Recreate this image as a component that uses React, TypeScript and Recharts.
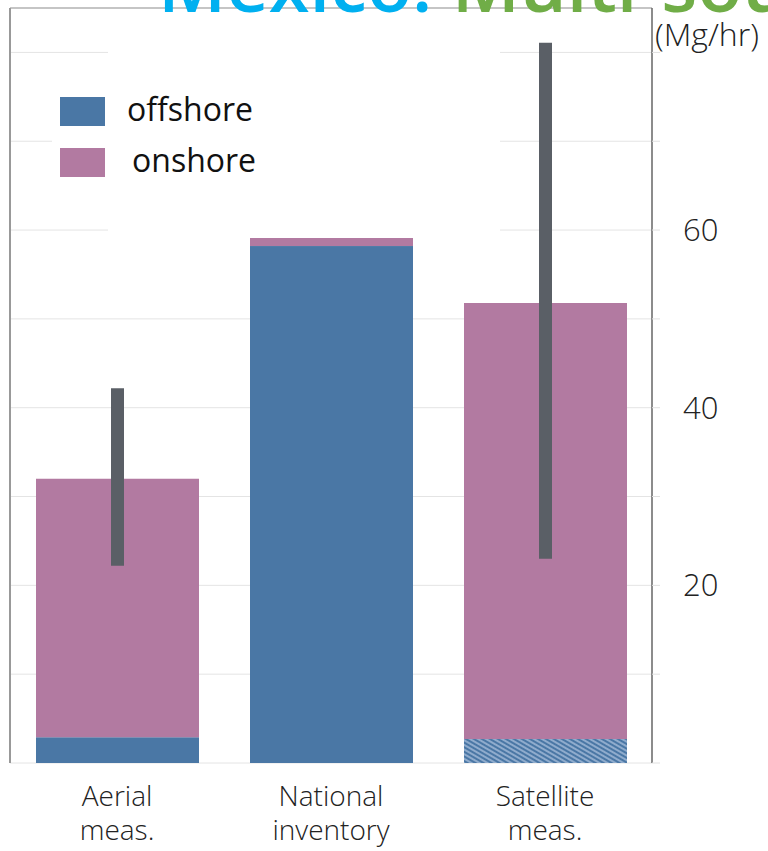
import React from 'react';
import {
  ComposedChart,
  Bar,
  XAxis,
  YAxis,
  CartesianGrid,
  Legend,
  ReferenceLine
} from 'recharts';

// ---------------------------------------------------------------------------
// Data (Mg/hr)
// ---------------------------------------------------------------------------

const categories = ['Aerial meas.', 'National inventory', 'Satellite meas.'];
const categoryLines = [['Aerial', 'meas.'], ['National', 'inventory'], ['Satellite', 'meas.']];
const offshore = [2.9, 58.2, 2.7];
const onshore = [29.1, 0.9, 49.1];
const errorLow: (number | null)[] = [22.2, null, 23.0];
const errorHigh: (number | null)[] = [42.2, null, 81.1];
const hatchedOffshore = [false, false, true];

const yTicks = [0, 10, 20, 30, 40, 50, 60, 70, 80];
const labelledTicks = [20, 40, 60];
const yMax = 85;

const OFFSHORE = '#4a77a5';
const ONSHORE = '#b27aa1';
const ERROR = '#5a5f66';
const FONT = '"Open Sans", "Noto Sans", sans-serif';

const rows = categories.map((name, i) => ({
  name,
  lines: categoryLines[i],
  offshore: offshore[i],
  onshore: onshore[i],
  hatched: hatchedOffshore[i],
  range: errorLow[i] != null && errorHigh[i] != null ? [errorLow[i], errorHigh[i]] : null
}));

// ---------------------------------------------------------------------------
// Custom renderers
// ---------------------------------------------------------------------------

const OffshoreShape = (props: any) => {
  const { x, y, width, height, payload } = props;
  if (!height || height <= 0) return null;
  if (!payload?.hatched) {
    return <rect x={x} y={y} width={width} height={height} fill={OFFSHORE} />;
  }
  return (
    <g>
      <defs>
        <pattern
          id="offshore-hatch"
          patternUnits="userSpaceOnUse"
          width={4}
          height={4}
          patternTransform="rotate(30)"
        >
          <rect width={4} height={4} fill={OFFSHORE} />
          <line x1={0} y1={1} x2={4} y2={1} stroke="#c9d8ee" strokeWidth={1.1} />
        </pattern>
      </defs>
      <rect x={x} y={y} width={width} height={height} fill="url(#offshore-hatch)" />
    </g>
  );
};

const CategoryTick = (props: any) => {
  const { x, y, index } = props;
  const lines = rows[index]?.lines ?? [];
  return (
    <text x={x} y={y} textAnchor="middle" fill="#222" fontFamily={FONT} fontSize={28} fontWeight={300}>
      {lines.map((line: string, i: number) => (
        <tspan key={i} x={x} dy={i === 0 ? 5 : 34}>
          {line}
        </tspan>
      ))}
    </text>
  );
};

const ValueTick = (props: any) => {
  const { x, y, payload } = props;
  if (!labelledTicks.includes(payload.value)) return null;
  return (
    <text x={x} y={y} dy={11} textAnchor="start" fill="#222" fontFamily={FONT} fontSize={31} fontWeight={300}>
      {payload.value}
    </text>
  );
};

const UnitLabel = (props: any) => {
  const { viewBox } = props;
  return (
    <text x={viewBox.x + 3} y={viewBox.y + 38} fill="#222" fontFamily={FONT} fontSize={32} fontWeight={300}>
      (Mg/hr)
    </text>
  );
};

const LegendBox = () => (
  <div style={{ position: 'relative', width: 448, height: 200, fontFamily: FONT }}>
    <div style={{ position: 'absolute', left: 56, top: 0, width: 392, height: 200, background: '#fff' }} />
    <div style={{ position: 'absolute', left: 0, top: 50, width: 60, height: 115, background: '#fff' }} />
    {[
      { label: 'offshore', color: OFFSHORE, top: 62, textLeft: 75 },
      { label: 'onshore', color: ONSHORE, top: 113, textLeft: 80 }
    ].map((item) => (
      <React.Fragment key={item.label}>
        <div
          style={{
            position: 'absolute',
            left: 8,
            top: item.top,
            width: 45,
            height: 29,
            background: item.color
          }}
        />
        <div
          style={{
            position: 'absolute',
            left: item.textLeft,
            top: item.top - 8,
            fontSize: 32,
            lineHeight: '40px',
            color: '#111'
          }}
        >
          {item.label}
        </div>
      </React.Fragment>
    ))}
  </div>
);

// ---------------------------------------------------------------------------
// Chart
// ---------------------------------------------------------------------------

export default function App() {
  return (
    <div style={{ position: 'absolute', left: 0, top: 0, width: 768, height: 851, overflow: 'hidden', background: '#fff' }}>
      <ComposedChart width={768} height={851} data={rows} margin={{ top: 8, right: 0, bottom: 0, left: 0 }}>
        <CartesianGrid xAxisId="main" yAxisId="r" vertical={false} stroke="#e4e4e4" />
        <XAxis
          xAxisId="main"
          dataKey="name"
          height={88}
          axisLine={false}
          tickLine={false}
          interval={0}
          tick={<CategoryTick />}
        />
        <XAxis xAxisId="err" dataKey="name" hide />
        <YAxis
          yAxisId="r"
          orientation="right"
          width={116}
          domain={[0, yMax]}
          ticks={yTicks}
          interval={0}
          axisLine={{ stroke: '#666', strokeWidth: 1.5 }}
          tickLine={{ stroke: '#e0e0e0' }}
          tickSize={8}
          tickMargin={23}
          tick={<ValueTick />}
          label={<UnitLabel />}
        />
        <YAxis
          yAxisId="l"
          orientation="left"
          width={10}
          domain={[0, yMax]}
          ticks={yTicks}
          interval={0}
          axisLine={{ stroke: '#999', strokeWidth: 2 }}
          tickLine={{ stroke: '#e0e0e0' }}
          tickSize={7}
          tick={false}
        />
        <ReferenceLine xAxisId="main" yAxisId="r" y={yMax} stroke="#999" strokeWidth={1} />
        <Bar
          xAxisId="main"
          yAxisId="r"
          dataKey="offshore"
          stackId="total"
          fill={OFFSHORE}
          barSize={163}
          shape={OffshoreShape}
          isAnimationActive={false}
        />
        <Bar
          xAxisId="main"
          yAxisId="r"
          dataKey="onshore"
          stackId="total"
          fill={ONSHORE}
          barSize={163}
          isAnimationActive={false}
        />
        <Bar
          xAxisId="err"
          yAxisId="r"
          dataKey="range"
          fill={ERROR}
          barSize={13}
          isAnimationActive={false}
        />
        <Legend
          layout="vertical"
          align="center"
          verticalAlign="middle"
          content={<LegendBox />}
          wrapperStyle={{ left: 52, top: 35, width: 448, height: 200 }}
        />
      </ComposedChart>
      <svg
        width={768}
        height={40}
        style={{ position: 'absolute', left: 0, top: 0, pointerEvents: 'none' }}
      >
        <text x={158} y={12} fontFamily={FONT} fontSize={74} fontWeight={600}>
          <tspan fill="#00b0f0">Mexico:</tspan>
          <tspan fill="#70ad47"> Multi-source</tspan>
        </text>
      </svg>
    </div>
  );
}
